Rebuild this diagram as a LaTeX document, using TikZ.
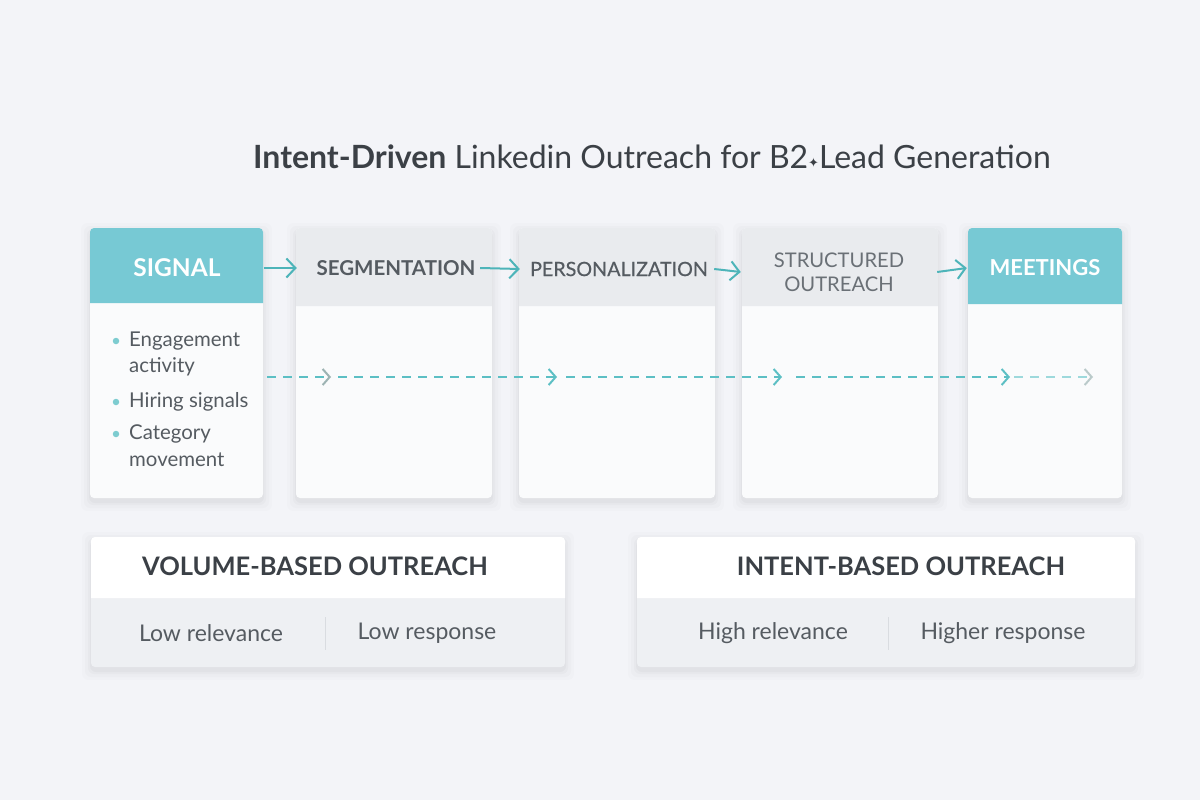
\documentclass[tikz,border=0pt]{standalone}
\usepackage{fontspec}
\setmainfont{Lato}
\newfontfamily\symfnt{DejaVu Sans}
\newfontfamily\latofb{Lato}[FakeBold=0.5]
\usetikzlibrary{arrows.meta}
\definecolor{bgc}{HTML}{F3F4F8}
\definecolor{tealhd}{HTML}{77C9D4}
\definecolor{grayhd}{HTML}{E9EBEE}
\definecolor{cardbg}{HTML}{FAFBFC}
\definecolor{darktxt}{HTML}{3B4046}
\definecolor{midtxt}{HTML}{555B61}
\definecolor{lighttxt}{HTML}{6A7076}
\definecolor{arrowc}{HTML}{4DB4B9}
\definecolor{dashc}{HTML}{5CBFC4}
\definecolor{grayarr}{HTML}{9DB3B3}
\definecolor{lowpanel}{HTML}{EEF0F3}
\definecolor{divc}{HTML}{D9DCE0}
\newcommand\softshadow[4]{%
  \foreach \s/\o in {9/0.012,6/0.016,3/0.02,1/0.025}{%
    \fill[black,opacity=\o,rounded corners=6] (#1-\s,#2-\s+4) rectangle (#3+\s,#4+\s+4);}}
\tikzset{
  hdrtext/.style={font=\bfseries\fontsize{20.5}{24}\selectfont, align=center},
  flowarrow/.style={draw=arrowc, line width=2pt, -{Straight Barb[length=9pt,width=19pt,line width=2pt]}},
  dasharrow/.style={draw=dashc, line width=2pt, dash pattern=on 9pt off 7pt, -{Straight Barb[length=7pt,width=16pt,line width=2pt]}},
  bullettxt/.style={font=\fontsize{20.4}{26}\selectfont, text=midtxt, anchor=west, inner sep=0pt},
  bdot/.style={circle, fill=dashc!80, inner sep=0pt, minimum size=6.5pt},
  cmp/.style={font=\fontsize{23}{26}\selectfont, text=midtxt},
  cmptitle/.style={font=\bfseries\fontsize{25.5}{28}\selectfont, text=darktxt}
}
\begin{document}
\begin{tikzpicture}[x=1pt,y=-1pt]
\fill[bgc] (0,0) rectangle (1200,800);
\useasboundingbox (0,0) rectangle (1200,800);

% title
\node[font=\fontsize{32}{36}\selectfont, text=darktxt] (title) at (652,157)
  {\textbf{Intent-Driven} Linkedin Outreach for B2\raisebox{1pt}{\symfnt\fontsize{13}{13}\selectfont ✦}Lead Generation};

% cards
\softshadow{90}{228}{263}{498}
\softshadow{296}{228}{492}{498}
\softshadow{519}{228}{715}{498}
\softshadow{742}{228}{938}{498}
\softshadow{968}{228}{1122}{498}

\fill[cardbg,rounded corners=4] (90,228) rectangle (263,498);
\fill[cardbg,rounded corners=4] (296,228) rectangle (492,498);
\fill[cardbg,rounded corners=4] (519,228) rectangle (715,498);
\fill[cardbg,rounded corners=4] (742,228) rectangle (938,498);
\fill[cardbg,rounded corners=4] (968,228) rectangle (1122,498);

\fill[tealhd] (90,303) [rounded corners=4] -- (90,228) -- (263,228) [sharp corners] -- (263,303) -- cycle;
\fill[grayhd] (296,306) [rounded corners=4] -- (296,228) -- (492,228) [sharp corners] -- (492,306) -- cycle;
\fill[grayhd] (519,306) [rounded corners=4] -- (519,228) -- (715,228) [sharp corners] -- (715,306) -- cycle;
\fill[grayhd] (742,306) [rounded corners=4] -- (742,228) -- (938,228) [sharp corners] -- (938,306) -- cycle;
\fill[tealhd] (968,304) [rounded corners=4] -- (968,228) -- (1122,228) [sharp corners] -- (1122,304) -- cycle;

\node[hdrtext, text=white, font=\bfseries\fontsize{24.5}{28}\selectfont, minimum width=173pt, minimum height=75pt, inner sep=0pt] (h1) at (177,268) {SIGNAL};
\node[hdrtext, text=midtxt, minimum width=196pt, minimum height=78pt, inner sep=0pt] (h2) at (396,268) {SEGMENTATION};
\node[hdrtext, text=midtxt, font={\latofb\fontsize{19.7}{22}\selectfont}, minimum width=196pt, minimum height=78pt, inner sep=0pt] (h3) at (619,269) {PERSONALIZATION};
\node[hdrtext, text=lighttxt, font=\fontsize{20.2}{24}\selectfont, minimum width=196pt, minimum height=78pt, inner sep=0pt] (h4) at (839,272) {STRUCTURED\\OUTREACH};
\node[hdrtext, text=white, font=\bfseries\fontsize{22}{26}\selectfont, minimum width=154pt, minimum height=76pt, inner sep=0pt] (h5) at (1045,268) {MEETINGS};

\draw[flowarrow] (h1.east) -- ([xshift=-1pt]h2.west);
\draw[flowarrow] ([xshift=-14pt]h2.east) -- ([xshift=-1pt]h3.west);
\draw[flowarrow] ([xshift=-3pt]h3.east) -- (h4.west);
\draw[flowarrow] (h4.east) -- ([xshift=-1pt]h5.west);

% bullets
\node[bdot] (b1) at (116,341) {};
\node[bdot] (b2) at (116,402) {};
\node[bdot] (b3) at (116,434) {};
\node[bullettxt] (t1a) at (129,341) {Engagement};
\node[bullettxt] (t1b) at (129,367) {activity};
\node[bullettxt] (t2) at (129,402) {Hiring signals};
\node[bullettxt] (t3a) at (129,434) {Category};
\node[bullettxt] (t3b) at (129,460) {movement};

% dashed flow
\coordinate (d0) at (267,377);
\coordinate (d1) at (331,377);
\coordinate (d1b) at (338,377);
\coordinate (d2) at (557,377);
\coordinate (d2b) at (566,377);
\coordinate (d3) at (782,377);
\coordinate (d3b) at (796,377);
\coordinate (d4) at (1010,377);
\coordinate (d4b) at (1014,377);
\coordinate (d5) at (1093,377);
\draw[dasharrow, -{Straight Barb[length=7pt,width=16pt,line width=2pt,color=grayarr]}] (d0) -- (d1);
\draw[dasharrow] (d1b) -- (d2);
\draw[dasharrow] (d2b) -- (d3);
\draw[dasharrow] (d3b) -- (d4);
\draw[dasharrow, draw=dashc!60, -{Straight Barb[length=7pt,width=16pt,line width=2pt,color=grayarr!70]}] (d4b) -- (d5);

% bottom panels
\softshadow{91}{537}{565}{667}
\softshadow{637}{537}{1135}{667}
\fill[lowpanel,rounded corners=4] (91,537) rectangle (565,667);
\fill[white] (91,598) [rounded corners=4] -- (91,537) -- (565,537) [sharp corners] -- (565,598) -- cycle;
\fill[lowpanel,rounded corners=4] (637,537) rectangle (1135,667);
\fill[white] (637,598) [rounded corners=4] -- (637,537) -- (1135,537) [sharp corners] -- (1135,598) -- cycle;

\node[cmptitle] (v) at (315,566) {VOLUME-BASED OUTREACH};
\node[cmp] (v1) at (211,633) {Low relevance};
\node[cmp] (v2) at (427,633) {Low response};
\draw[divc, line width=0.8pt] (325,617) -- (325,650);

\node[cmptitle] (i) at (901,566) {INTENT-BASED OUTREACH};
\node[cmp] (i1) at (773,633) {High relevance};
\node[cmp] (i2) at (1003,633) {Higher response};
\draw[divc, line width=0.8pt] (888,617) -- (888,650);
\end{tikzpicture}
\end{document}
